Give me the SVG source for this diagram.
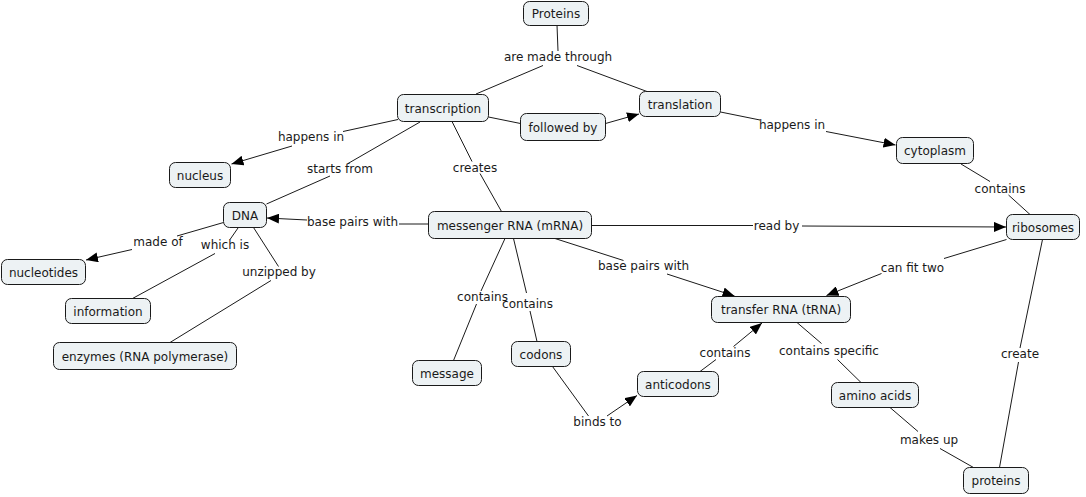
<svg xmlns="http://www.w3.org/2000/svg" width="1086" height="497" viewBox="0 0 1086 497">
<style>
.n rect{fill:#edf2f4;stroke:#1a1a1a;stroke-width:1}
text{font-family:"DejaVu Sans","Verdana",sans-serif;font-size:12px;fill:#1a1a1a;text-anchor:middle}
.c line,.c polyline{stroke:#1a1a1a;stroke-width:1;fill:none}
.a{marker-end:url(#ah)}
</style>
<defs>
<marker id="ah" markerUnits="userSpaceOnUse" markerWidth="12" markerHeight="10" refX="12" refY="5" orient="auto">
<path d="M0,0 L12,5 L0,10 z" fill="#000"/>
</marker>
</defs>
<rect width="1086" height="497" fill="#fff"/>
<g class="c" id="connectors">
<line x1="557" y1="25" x2="558" y2="51"/>
<line x1="543" y1="65.5" x2="476" y2="94"/>
<line x1="577" y1="65.5" x2="647" y2="91.5"/>
<line x1="488.5" y1="117" x2="520.5" y2="123.5"/>
<line class="a" x1="605.5" y1="123.5" x2="639" y2="114"/>
<line x1="398" y1="119.5" x2="343" y2="131.5"/>
<line class="a" x1="292" y1="146" x2="231.5" y2="164"/>
<line x1="420" y1="122" x2="348" y2="163.5"/>
<line x1="330" y1="176" x2="266.5" y2="204"/>
<line x1="452" y1="121.5" x2="472" y2="161.5"/>
<line x1="480" y1="173.5" x2="501.5" y2="211.5"/>
<line x1="428.5" y1="224" x2="399" y2="224"/>
<line class="a" x1="307" y1="220" x2="267" y2="218"/>
<line x1="223.5" y1="222.5" x2="177" y2="236"/>
<line class="a" x1="132" y1="249.5" x2="86" y2="260"/>
<line x1="238" y1="228" x2="230" y2="239.5"/>
<line x1="215" y1="253.5" x2="132.5" y2="298.5"/>
<line x1="253.5" y1="227.5" x2="278.5" y2="266.5"/>
<line x1="271" y1="280.5" x2="170" y2="342.5"/>
<line x1="591.5" y1="225.5" x2="753" y2="225.5"/>
<line class="a" x1="802" y1="226" x2="1006" y2="227"/>
<line x1="555" y1="238.5" x2="623.5" y2="260.5"/>
<line class="a" x1="667" y1="274" x2="734.5" y2="296"/>
<line x1="505" y1="238.5" x2="481" y2="291"/>
<line x1="476.5" y1="304" x2="453.5" y2="360.5"/>
<line x1="513.5" y1="238.5" x2="526.5" y2="293"/>
<line x1="530" y1="311" x2="537" y2="341.5"/>
<line x1="552.5" y1="366.5" x2="588.5" y2="416"/>
<line class="a" x1="607" y1="416" x2="637" y2="395.5"/>
<line x1="700" y1="371.5" x2="716" y2="359.5"/>
<line class="a" x1="733.5" y1="346.5" x2="762" y2="323"/>
<line x1="797" y1="322.5" x2="821.5" y2="343.5"/>
<line x1="837.5" y1="359.5" x2="861" y2="382.5"/>
<line x1="890" y1="407.5" x2="918" y2="431.5"/>
<line x1="940" y1="448.5" x2="973.5" y2="467.5"/>
<line x1="1042.5" y1="239.5" x2="1020" y2="348"/>
<line x1="1018.5" y1="362" x2="999.5" y2="467.5"/>
<line x1="1006.5" y1="239.5" x2="944" y2="258.5"/>
<line class="a" x1="881.5" y1="273.5" x2="826.5" y2="295.5"/>
<line x1="961" y1="164" x2="990" y2="181.5"/>
<line x1="1008.5" y1="195" x2="1030" y2="214.5"/>
<line x1="720.5" y1="112" x2="760" y2="120"/>
<line class="a" x1="826" y1="131.5" x2="895.5" y2="145"/>
<text x="558" y="61">are made through</text>
<text x="311" y="141">happens in</text>
<text x="340" y="173">starts from</text>
<text x="475" y="171.5">creates</text>
<text x="352.5" y="226">base pairs with</text>
<text x="158" y="245.5">made of</text>
<text x="225" y="249">which is</text>
<text x="279" y="276">unzipped by</text>
<text x="776.5" y="230">read by</text>
<text x="643.5" y="270">base pairs with</text>
<text x="482.5" y="301">contains</text>
<text x="527.5" y="308">contains</text>
<text x="597.5" y="426">binds to</text>
<text x="725" y="357">contains</text>
<text x="829" y="355">contains specific</text>
<text x="929" y="444">makes up</text>
<text x="1020" y="358">create</text>
<text x="912.5" y="271.5">can fit two</text>
<text x="1000" y="192.5">contains</text>
<text x="792" y="129">happens in</text>
</g>
<g class="n" id="n-proteins-top"><rect x="523.5" y="1.5" width="65" height="24" rx="6"/><text x="556" y="18">Proteins</text></g>
<g class="n" id="n-transcription"><rect x="397.5" y="94.5" width="91" height="27" rx="6"/><text x="443" y="112.5">transcription</text></g>
<g class="n" id="n-followed"><rect x="520.5" y="113.5" width="85" height="27" rx="6"/><text x="563" y="131.5">followed by</text></g>
<g class="n" id="n-translation"><rect x="639.5" y="91.5" width="81" height="25" rx="6"/><text x="680" y="108.5">translation</text></g>
<g class="n" id="n-nucleus"><rect x="169.5" y="162.5" width="61" height="25" rx="6"/><text x="200" y="179.5">nucleus</text></g>
<g class="n" id="n-dna"><rect x="223.5" y="202.5" width="43" height="25" rx="6"/><text x="245" y="219.5">DNA</text></g>
<g class="n" id="n-nucleotides"><rect x="1.5" y="259.5" width="84" height="25" rx="6"/><text x="43.5" y="276.5">nucleotides</text></g>
<g class="n" id="n-information"><rect x="65.5" y="298.5" width="85" height="25" rx="6"/><text x="108" y="315.5">information</text></g>
<g class="n" id="n-enzymes"><rect x="53.5" y="342.5" width="183" height="27" rx="6"/><text x="145" y="360.5">enzymes (RNA polymerase)</text></g>
<g class="n" id="n-mrna"><rect x="428.5" y="211.5" width="163" height="27" rx="6"/><text x="510" y="229.5">messenger RNA (mRNA)</text></g>
<g class="n" id="n-trna"><rect x="711.5" y="296.5" width="139" height="26" rx="6"/><text x="781" y="314">transfer RNA (tRNA)</text></g>
<g class="n" id="n-message"><rect x="412.5" y="360.5" width="69" height="25" rx="6"/><text x="447" y="377.5">message</text></g>
<g class="n" id="n-codons"><rect x="511.5" y="341.5" width="59" height="25" rx="6"/><text x="541" y="358.5">codons</text></g>
<g class="n" id="n-anticodons"><rect x="637.5" y="371.5" width="81" height="25" rx="6"/><text x="678" y="388.5">anticodons</text></g>
<g class="n" id="n-amino"><rect x="831.5" y="382.5" width="87" height="25" rx="6"/><text x="875" y="399.5">amino acids</text></g>
<g class="n" id="n-cytoplasm"><rect x="896.5" y="137.5" width="77" height="26" rx="6"/><text x="935" y="155">cytoplasm</text></g>
<g class="n" id="n-ribosomes"><rect x="1006.5" y="214.5" width="73" height="25" rx="6"/><text x="1043" y="231.5">ribosomes</text></g>
<g class="n" id="n-proteins"><rect x="963.5" y="467.5" width="65" height="26" rx="6"/><text x="996" y="485">proteins</text></g>
</svg>
